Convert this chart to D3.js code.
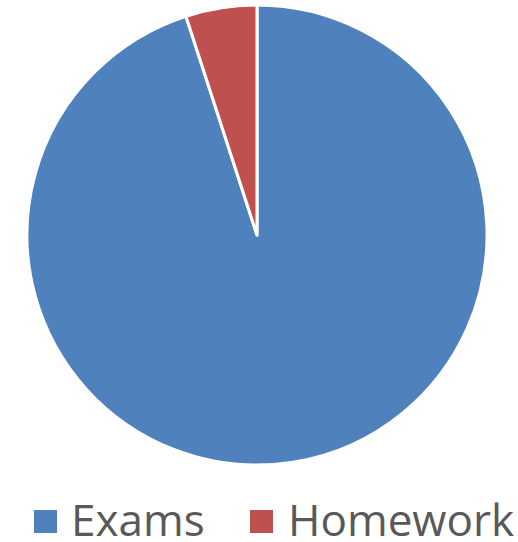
<!DOCTYPE html>
<html>
  <head>
    <meta charset="utf-8">
    <title>Exams and homework</title>
    <script src="https://d3js.org/d3.v7.min.js"></script>
    <style>
      body { margin: 0; background: #fff; }
      .legendLabel { font-family: "Open Sans", sans-serif; font-size: 44px; fill: #595959; }
    </style>
  </head>
  <body>
    <svg id="chart" width="518" height="542"></svg>
    <script>
      // data
      const categories = ["Exams", "Homework"];
      const values = [95, 5];
      const colours = ["#4F81BD", "#C0504D"];

      const centre = [257, 235];
      const radius = 230;

      const chart = d3.select("#chart");
      const pieData = d3.pie().sort(null)(values);
      const arc = d3.arc().innerRadius(0).outerRadius(radius);

      const colour = d3.scaleOrdinal()
        .domain(categories)
        .range(colours);

      chart.append("g")
        .attr("transform", "translate(" + centre[0] + "," + centre[1] + ")")
        .selectAll("path")
        .data(pieData)
        .enter().append("path")
          .attr("d", arc)
          .style("fill", function(d, i) { return colour(categories[i]); })
          .style("stroke", "#fff")
          .style("stroke-width", 3)
          .style("stroke-linejoin", "round");

      // legend
      const legendX = [34, 250];
      const legend = chart.append("g")
        .selectAll("g")
        .data(categories)
        .enter().append("g")
          .attr("transform", function(d, i) { return "translate(" + legendX[i] + ",510)"; });
      legend.append("rect")
        .attr("width", 23)
        .attr("height", 23)
        .style("fill", function(d) { return colour(d); });
      legend.append("text")
        .classed("legendLabel", true)
        .attr("x", function(d, i) { return i === 0 ? 37 : 38; })
        .attr("y", 26)
        .text(function(d) { return d; });
    </script>
  </body>
</html>
